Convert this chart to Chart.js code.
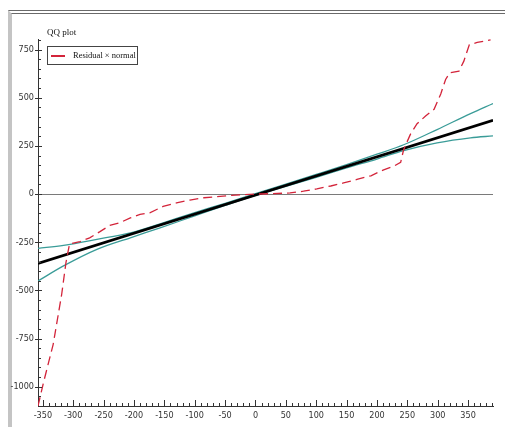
<!DOCTYPE html>
<html>
<head>
<meta charset="utf-8">
<script src="https://cdn.jsdelivr.net/npm/chart.js@4/dist/chart.umd.min.js"></script>
<style>
  html, body { margin: 0; padding: 0; background: #fff; }
  #wrap { position: relative; width: 505px; height: 427px; overflow: hidden; }
  #frame { position: absolute; left: 8px; top: 10px; right: 0; bottom: 0;
           border-top: 4px double #6a6a6a; border-left: 4px solid #c4c4c4; }
  #cv { position: absolute; left: 0; top: 0; }
  #title { position: absolute; left: 47px; top: 27px; font: 9px "Liberation Serif", serif; color: #111; }
  #legend { position: absolute; left: 47px; top: 46px; width: 89px; height: 17px;
            border: 1px solid #444; background: #fff; font: 8.5px "Liberation Serif", serif; color: #111; }
  #legend .sw { position: absolute; left: 3px; top: 8px; width: 14px; height: 1.5px; background: #d3243a; display: block; }
  #legend .tx { position: absolute; left: 25px; top: 3px; white-space: nowrap; }
</style>
</head>
<body>
<div id="wrap">
  <div id="frame"></div>
  <canvas id="cv" width="505" height="427"></canvas>
  <div id="title">QQ plot</div>
  <div id="legend"><div class="sw"></div><span class="tx" id="legtext"></span></div>
</div>
<script>
// ---- data ----
const titleText = "QQ plot";
const seriesName = "Residual × normal";

const xTicks = [-350, -300, -250, -200, -150, -100, -50, 0, 50, 100, 150, 200, 250, 300, 350];
const yTicks = [-1000, -750, -500, -250, 0, 250, 500, 750];

// residual quantiles (red dashed)
const redX = [-358, -349, -333, -319, -312, -306, -289, -273, -256, -240, -223, -206, -190, -174, -152, -130, -108, -85, -64, -42, -20, 0, 24, 57, 79, 101, 124, 145, 167, 190, 211, 228, 239, 244, 255, 266, 280, 294, 305, 313, 320, 335, 343, 352, 365, 387];
const redY = [-1100, -979, -780, -520, -356, -258, -247, -227, -195, -163, -148, -124, -105, -97, -64, -46, -31, -19, -14, -7, -3, 0, 2, 6, 15, 27, 42, 58, 76, 95, 126, 145, 165, 232, 310, 365, 405, 440, 520, 595, 630, 638, 690, 775, 787, 800];

// reference line (black)
const fitX = [-358, 391];
const fitY = [-360, 383];

// confidence envelope (teal)
const bandX  = [-358, -316, -261, -206, -157, -100, -50, 0, 50, 100, 150, 200, 244, 299, 354, 391];
const upperY = [-282, -266, -235, -201, -154, -96, -48, 3, 52, 102, 153, 207, 256, 335, 418, 470];
const lowerY = [-451, -373, -287, -227, -175, -113, -59, -7, 40, 87, 136, 182, 226, 266, 292, 302];

const xMin = -358, xMax = 391, yMin = -1100, yMax = 805;

// ---- build ----
const pts = (xs, ys) => xs.map((x, i) => ({ x: x, y: ys[i] }));
document.getElementById('title').textContent = titleText;
document.getElementById('legtext').textContent = seriesName;

const tickFont = { family: '"Liberation Sans Narrow", "DejaVu Sans Condensed", sans-serif', size: 9 };

const minorTicks = {
  id: 'minorTicks',
  afterDraw(chart) {
    const ctx = chart.ctx, xs = chart.scales.x, ys = chart.scales.y;
    const area = chart.chartArea;
    ctx.save();
    ctx.strokeStyle = '#333';
    ctx.lineWidth = 1;
    ctx.beginPath();
    for (let v = Math.ceil(xMin / 10) * 10; v <= xMax; v += 10) {
      const p = Math.round(xs.getPixelForValue(v)) + 0.5;
      const len = (v % 50 === 0) ? 6 : 3;
      ctx.moveTo(p, area.bottom);
      ctx.lineTo(p, area.bottom - len);
    }
    for (let v = Math.ceil(yMin / 50) * 50; v <= yMax; v += 50) {
      const p = Math.round(ys.getPixelForValue(v)) + 0.5;
      if (v % 250 === 0) {
        ctx.moveTo(area.left - 3, p);
        ctx.lineTo(area.left + 4, p);
      } else {
        ctx.moveTo(area.left, p);
        ctx.lineTo(area.left + 3, p);
      }
    }
    ctx.stroke();
    ctx.restore();
  }
};

new Chart(document.getElementById('cv'), {
  type: 'scatter',
  data: {
    datasets: [
      { label: seriesName, data: pts(redX, redY), showLine: true, borderColor: '#d3243a',
        borderWidth: 1.3, borderDash: [9, 5], pointRadius: 0, fill: false, tension: 0 },
      { label: 'fit', data: pts(fitX, fitY), showLine: true, borderColor: '#000',
        borderWidth: 2.6, pointRadius: 0, fill: false, tension: 0 },
      { label: 'upper', data: pts(bandX, upperY), showLine: true, borderColor: '#3a9c98',
        borderWidth: 1.3, pointRadius: 0, fill: false, cubicInterpolationMode: 'monotone' },
      { label: 'lower', data: pts(bandX, lowerY), showLine: true, borderColor: '#3a9c98',
        borderWidth: 1.3, pointRadius: 0, fill: false, cubicInterpolationMode: 'monotone' }
    ]
  },
  options: {
    responsive: false,
    animation: false,
    layout: { padding: { left: 0, top: 39, right: 12, bottom: 0 } },
    plugins: { legend: { display: false }, tooltip: { enabled: false }, title: { display: false } },
    scales: {
      x: {
        type: 'linear', min: xMin, max: xMax,
        afterBuildTicks: s => { s.ticks = xTicks.map(v => ({ value: v })); },
        afterFit: s => { s.height = 21; },
        grid: { display: true, drawOnChartArea: false, drawTicks: false },
        border: { display: true, color: '#333', width: 1 },
        ticks: { font: tickFont, color: '#333', padding: 4, maxRotation: 0, autoSkip: false,
                 callback: v => String(v) }
      },
      y: {
        type: 'linear', min: yMin, max: yMax,
        afterBuildTicks: s => { s.ticks = yTicks.map(v => ({ value: v })); },
        afterFit: s => { s.width = 38; },
        grid: { display: true, drawTicks: false,
                color: c => (c.tick && c.tick.value === 0) ? '#7a7a7a' : 'rgba(0,0,0,0)' },
        border: { display: true, color: '#333', width: 1 },
        ticks: { font: tickFont, color: '#333', padding: 4, autoSkip: false,
                 callback: v => String(v) }
      }
    }
  },
  plugins: [minorTicks]
});
</script>
</body>
</html>
